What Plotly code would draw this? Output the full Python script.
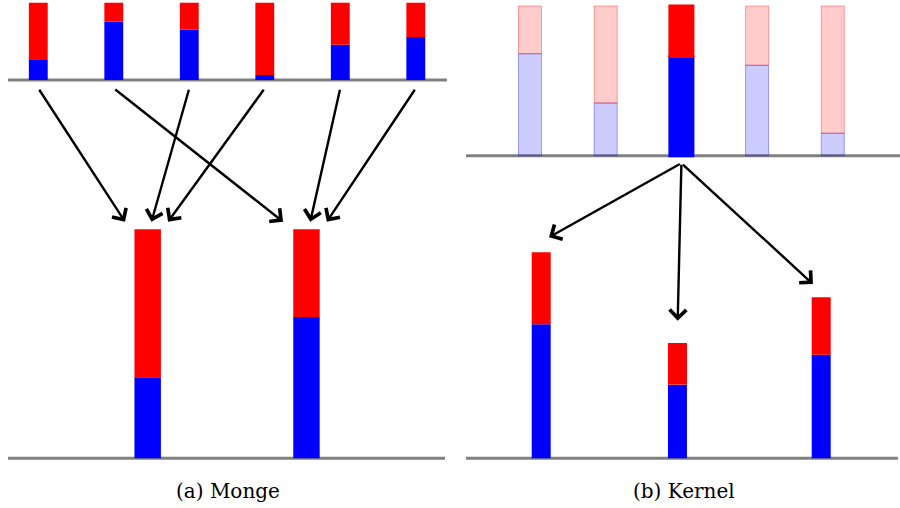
import plotly.graph_objects as go

# ---------------- data: (a) Monge ----------------
monge_src_x = [0, 1, 2, 3, 4, 5]
monge_src_blue = [0.259, 0.754, 0.651, 0.065, 0.457, 0.556]
monge_src_red = [0.741, 0.246, 0.349, 0.935, 0.543, 0.444]
monge_dst_x = [1.449, 3.552]
monge_dst_blue = [1.048, 1.828]
monge_dst_red = [1.914, 1.134]
monge_target = [0, 1, 0, 0, 1, 1]          # destination bar of each source bar

# ---------------- data: (b) Kernel ----------------
kernel_src_x = [0, 1, 2, 3, 4]
kernel_src_blue = [0.681, 0.352, 0.663, 0.604, 0.150]
kernel_src_red = [0.319, 0.648, 0.337, 0.396, 0.850]
kernel_selected = 2
kernel_dst_x = [0.148, 1.948, 3.847]
kernel_dst_blue = [0.895, 0.492, 0.692]
kernel_dst_red = [0.481, 0.278, 0.383]

captions = ["(a) Monge", "(b) Kernel"]

# ---------------- styling / layout constants ----------------
RED = "#ff0000"
BLUE = "#0000ff"
RED_F = "rgba(255,0,0,0.2)"
BLUE_F = "rgba(0,0,255,0.2)"
RED_FL = "rgba(255,0,0,0.35)"
BLUE_FL = "rgba(0,0,255,0.35)"
GRAY = "rgb(128,128,128)"
SERIF = "DejaVu Serif"

L_TOP = 4.894            # left panel: top baseline level
R_TOP = 2.021            # right panel: top baseline level
monge_head_dx = [-0.30, -0.31, 0.05, 0.27, 0.05, 0.27]
kernel_head_dx = [0.103, 0.003, -0.109]
kernel_head_dy = [0.100, 0.149, 0.089]

fig = go.Figure()

# ---- left panel bars ----
fig.add_trace(go.Bar(x=monge_src_x, y=monge_src_blue, base=[L_TOP] * len(monge_src_x),
                     width=0.25, marker=dict(color=BLUE, line=dict(width=0)),
                     xaxis="x", yaxis="y"))
fig.add_trace(go.Bar(x=monge_src_x, y=monge_src_red,
                     base=[L_TOP + b for b in monge_src_blue],
                     width=0.25, marker=dict(color=RED, line=dict(width=0)),
                     xaxis="x", yaxis="y"))
fig.add_trace(go.Bar(x=monge_dst_x, y=monge_dst_blue, base=[0] * len(monge_dst_x),
                     width=0.35, marker=dict(color=BLUE, line=dict(width=0)),
                     xaxis="x", yaxis="y"))
fig.add_trace(go.Bar(x=monge_dst_x, y=monge_dst_red, base=monge_dst_blue,
                     width=0.35, marker=dict(color=RED, line=dict(width=0)),
                     xaxis="x", yaxis="y"))

# ---- right panel bars ----
sel = [i == kernel_selected for i in kernel_src_x]
fig.add_trace(go.Bar(x=kernel_src_x, y=kernel_src_blue, base=[R_TOP] * len(kernel_src_x),
                     width=0.304,
                     marker=dict(color=[BLUE if s else BLUE_F for s in sel],
                                 line=dict(color=[BLUE if s else BLUE_FL for s in sel],
                                           width=[3 if s else 1 for s in sel])),
                     xaxis="x2", yaxis="y2"))
fig.add_trace(go.Bar(x=kernel_src_x, y=kernel_src_red,
                     base=[R_TOP + b for b in kernel_src_blue],
                     width=0.304,
                     marker=dict(color=[RED if s else RED_F for s in sel],
                                 line=dict(color=[RED if s else RED_FL for s in sel],
                                           width=[3 if s else 1 for s in sel])),
                     xaxis="x2", yaxis="y2"))
fig.add_trace(go.Bar(x=kernel_dst_x, y=kernel_dst_blue, base=[0] * len(kernel_dst_x),
                     width=0.251, marker=dict(color=BLUE, line=dict(width=0)),
                     xaxis="x2", yaxis="y2"))
fig.add_trace(go.Bar(x=kernel_dst_x, y=kernel_dst_red, base=kernel_dst_blue,
                     width=0.251, marker=dict(color=RED, line=dict(width=0)),
                     xaxis="x2", yaxis="y2"))

# ---- baselines ----
shapes = [
    dict(type="line", xref="x", yref="y", x0=-0.401, x1=5.413, y0=L_TOP, y1=L_TOP),
    dict(type="line", xref="x", yref="y", x0=-0.401, x1=5.387, y0=0, y1=0),
    dict(type="line", xref="x2", yref="y2", x0=-0.845, x1=4.89, y0=R_TOP, y1=R_TOP),
    dict(type="line", xref="x2", yref="y2", x0=-0.845, x1=4.86, y0=0, y1=0),
]
for s in shapes:
    s.update(layer="below", line=dict(color=GRAY, width=3))

# ---- arrows ----
annotations = []
for i, t in enumerate(monge_target):
    annotations.append(dict(
        xref="x", yref="y", axref="x", ayref="y",
        x=monge_dst_x[t] + monge_head_dx[i],
        y=monge_dst_blue[t] + monge_dst_red[t] + 0.099,
        ax=monge_src_x[i], ay=L_TOP - 0.107,
        showarrow=True, arrowhead=4, arrowsize=1.35, arrowwidth=2.4,
        arrowcolor="black", text="", standoff=0, startstandoff=0))
for j in range(len(kernel_dst_x)):
    annotations.append(dict(
        xref="x2", yref="y2", axref="x2", ayref="y2",
        x=kernel_dst_x[j] + kernel_head_dx[j],
        y=kernel_dst_blue[j] + kernel_dst_red[j] + kernel_head_dy[j],
        ax=kernel_src_x[kernel_selected], ay=R_TOP - 0.05,
        showarrow=True, arrowhead=4, arrowsize=1.35, arrowwidth=2.4,
        arrowcolor="black", text="", standoff=0, startstandoff=0))

# ---- captions ----
for cx, txt in zip([228 / 900, 684 / 900], captions):
    annotations.append(dict(xref="paper", yref="paper", x=cx, y=1 - 490.5 / 508,
                            text=txt, showarrow=False, xanchor="center", yanchor="middle",
                            font=dict(family=SERIF, size=20, color="black")))

fig.update_layout(
    width=900, height=508,
    margin=dict(l=0, r=0, t=0, b=0),
    paper_bgcolor="white", plot_bgcolor="white",
    barmode="overlay", showlegend=False,
    font=dict(family=SERIF),
    xaxis=dict(domain=[0, 0.5], range=[-0.507, 5.453], visible=False, anchor="y"),
    yaxis=dict(domain=[0, 1], range=[-0.643, 5.929], visible=False, anchor="x"),
    xaxis2=dict(domain=[0.5, 1], range=[-1.057, 4.888], visible=False, anchor="y2"),
    yaxis2=dict(domain=[0, 1], range=[-0.332, 3.061], visible=False, anchor="x2"),
    shapes=shapes, annotations=annotations,
)

fig.write_html("out.html", config={"displayModeBar": False},
               post_script="document.body.style.margin='0';")
